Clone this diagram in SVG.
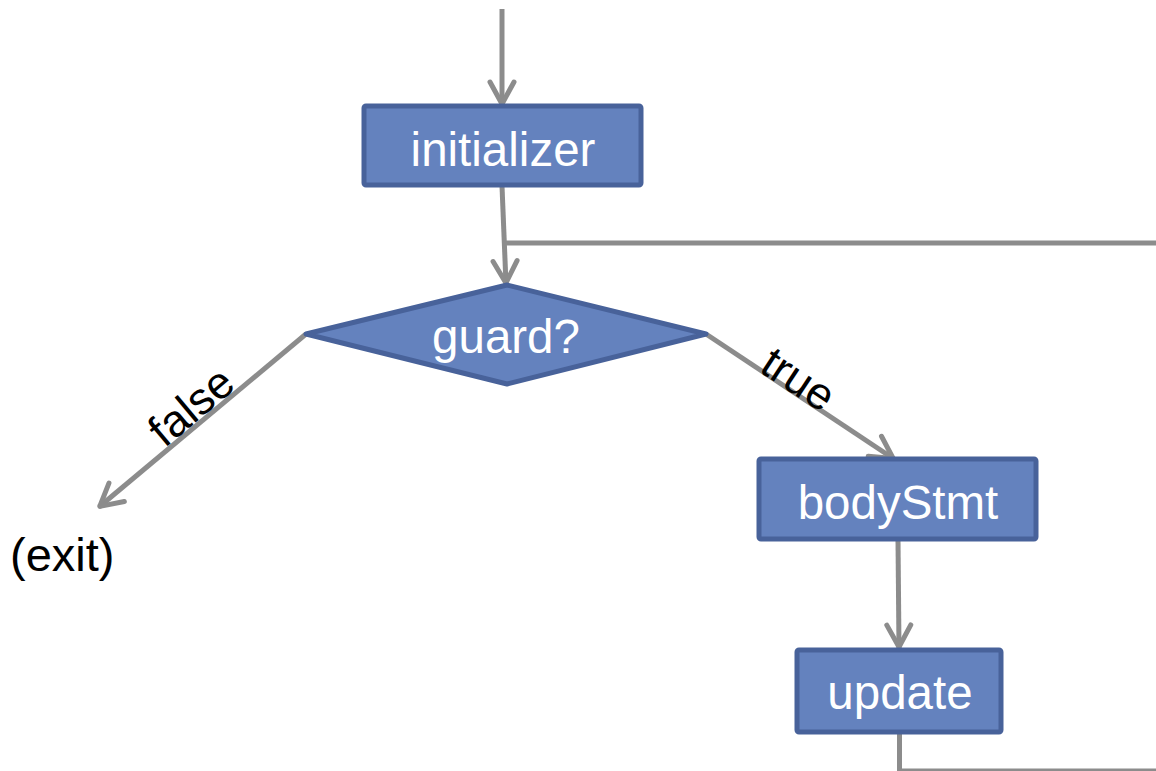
<svg xmlns="http://www.w3.org/2000/svg" width="1156" height="771" viewBox="0 0 1156 771">
<style>
.box{fill:#6482be;stroke:#48629a;stroke-width:5}
.nt{font-family:"Liberation Sans",Arial,sans-serif;font-size:47.5px;fill:#ffffff;text-anchor:middle}
.lbl{font-family:"Liberation Sans",Arial,sans-serif;font-size:45px;fill:#000000;text-anchor:middle}
.ln{fill:none;stroke:#8c8c8c;stroke-width:5}
</style>
<defs>
<marker id="arr" markerUnits="userSpaceOnUse" viewBox="-28 -16 32 32" markerWidth="32" markerHeight="32" refX="0" refY="0" orient="auto">
<path d="M-23,-12 L-1,0 L-23,12" fill="none" stroke="#8c8c8c" stroke-width="5" stroke-linecap="round" stroke-linejoin="round"/>
</marker>
</defs>
<rect width="1156" height="771" fill="#ffffff"/>
<g id="connectors">
<line class="ln" x1="502" y1="9" x2="502" y2="105" marker-end="url(#arr)"/>
<line class="ln" x1="502" y1="186" x2="506" y2="284" marker-end="url(#arr)"/>
<line class="ln" x1="505" y1="243" x2="1156" y2="243"/>
<line class="ln" x1="306" y1="334" x2="99" y2="507" marker-end="url(#arr)"/>
<line class="ln" x1="706" y1="334" x2="894" y2="459" marker-end="url(#arr)"/>
<line class="ln" x1="898" y1="540" x2="899" y2="648" marker-end="url(#arr)"/>
<polyline class="ln" points="899.5,733 899.5,771 1156,771"/>
<text class="lbl" transform="translate(201,418) rotate(-40)">false</text>
<text class="lbl" transform="translate(790,392) rotate(33.4)">true</text>
</g>
<g id="initializer">
<rect class="box" x="364" y="106" width="277" height="79" rx="2"/>
<text class="nt" x="503" y="166">initializer</text>
</g>
<g id="guard">
<polygon class="box" points="507,285 706,334 507,384 306,334" stroke-linejoin="round"/>
<text class="nt" x="506" y="353">guard?</text>
</g>
<g id="bodyStmt">
<rect class="box" x="759" y="459" width="277" height="80" rx="2"/>
<text class="nt" x="898" y="519">bodyStmt</text>
</g>
<g id="update">
<rect class="box" x="797" y="650" width="204" height="82" rx="2"/>
<text class="nt" x="900" y="709">update</text>
</g>
<g id="exit">
<text class="lbl" style="font-size:47px;text-anchor:start" x="10" y="571">(exit)</text>
</g>
</svg>
